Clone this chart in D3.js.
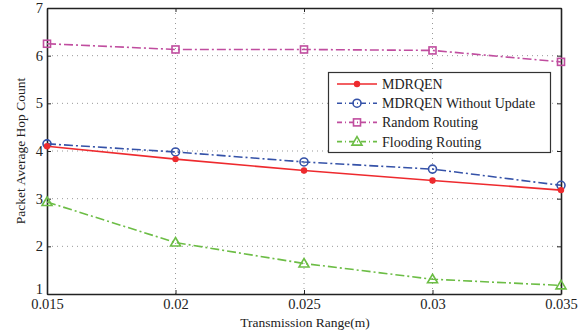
<!DOCTYPE html>
<html>
<head>
<meta charset="utf-8">
<script src="https://cdn.jsdelivr.net/npm/d3@7"></script>
<style>
  html, body { margin: 0; padding: 0; background: #fff; }
  svg { display: block; }
  svg text { font-family: "Liberation Serif", "DejaVu Serif", "Times New Roman", Times, serif; fill: #222; }
</style>
</head>
<body>
<svg id="chart" width="587" height="333"></svg>
<script>
// Transmission range (m) on the x axis
const ranges = [0.015, 0.02, 0.025, 0.03, 0.035];
const xTicks = ["0.015", "0.02", "0.025", "0.03", "0.035"];
const yTicks = [1, 2, 3, 4, 5, 6, 7];

// Packet average hop count per routing scheme
const mdrqen = [4.10, 3.83, 3.59, 3.38, 3.18];
const mdrqenNoUpdate = [4.15, 3.98, 3.77, 3.62, 3.28];
const randomRouting = [6.25, 6.13, 6.13, 6.11, 5.87];
const floodingRouting = [2.93, 2.08, 1.64, 1.31, 1.18];

const seriesNames = ["MDRQEN", "MDRQEN Without Update", "Random Routing", "Flooding Routing"];

const series = [
  { name: seriesNames[0], values: mdrqen, color: "#ee2a2e", dash: null, marker: "dot" },
  { name: seriesNames[1], values: mdrqenNoUpdate, color: "#3552a8", dash: "9,3,2,3", marker: "circle" },
  { name: seriesNames[2], values: randomRouting, color: "#c04d9f", dash: "9,3,2,3", marker: "square" },
  { name: seriesNames[3], values: floodingRouting, color: "#6cbd45", dash: "9,3,2,3", marker: "triangle" }
];

const FONT = '"Liberation Serif", "DejaVu Serif", "Times New Roman", Times, serif';

const svg = d3.select("#chart");
const m = { left: 47, right: 561, top: 8, bottom: 294 };

const x = d3.scaleLinear().domain([0.015, 0.035]).range([m.left, m.right]);
const y = d3.scaleLinear().domain([1, 7]).range([m.bottom, m.top]);

// dotted grid
const grid = svg.append("g");
grid.selectAll("line.gx").data(ranges.slice(1, -1)).enter().append("line")
  .attr("x1", d => x(d)).attr("x2", d => x(d))
  .attr("y1", m.top).attr("y2", m.bottom)
  .attr("stroke", "#999").attr("stroke-width", 1).attr("stroke-dasharray", "1,4");
grid.selectAll("line.gy").data(yTicks.slice(1, -1)).enter().append("line")
  .attr("y1", d => y(d)).attr("y2", d => y(d))
  .attr("x1", m.left).attr("x2", m.right)
  .attr("stroke", "#999").attr("stroke-width", 1).attr("stroke-dasharray", "1,4");

// axes with inward ticks on all four sides
const fmtX = (d, i) => xTicks[i];
const axB = svg.append("g").attr("transform", `translate(0,${m.bottom})`)
  .call(d3.axisBottom(x).tickValues(ranges).tickFormat(fmtX).tickSizeInner(-4).tickSizeOuter(0).tickPadding(5));
const axT = svg.append("g").attr("transform", `translate(0,${m.top})`)
  .call(d3.axisTop(x).tickValues(ranges).tickFormat("").tickSizeInner(-4).tickSizeOuter(0));
const axL = svg.append("g").attr("transform", `translate(${m.left},0)`)
  .call(d3.axisLeft(y).tickValues(yTicks).tickFormat(d3.format("d")).tickSizeInner(-4).tickSizeOuter(0).tickPadding(7));
const axR = svg.append("g").attr("transform", `translate(${m.right},0)`)
  .call(d3.axisRight(y).tickValues(yTicks).tickFormat("").tickSizeInner(-4).tickSizeOuter(0));

[axB, axT, axL, axR].forEach(g => {
  g.attr("font-family", FONT);
  g.select(".domain").attr("stroke", "#222").attr("stroke-width", 1.6);
  g.selectAll(".tick line").attr("stroke", "#222").attr("stroke-width", 1);
  g.selectAll("text").style("font-family", FONT).style("font-size", "14.5px").attr("fill", "#333");
});
axB.selectAll("text").attr("dy", "10px");
axL.selectAll("text").attr("dx", "3");
// lowest y label sits just above the first x label
axL.selectAll(".tick").filter(d => d === 1).select("text").attr("dy", "-1px");

// axis titles
svg.append("text").attr("x", (m.left + m.right) / 2 + 1).attr("y", 327)
  .attr("text-anchor", "middle").style("font-size", "13.5px").text("Transmission Range(m)");
svg.append("text").attr("transform", `translate(25,${(m.top + m.bottom) / 2}) rotate(-90)`)
  .attr("text-anchor", "middle").style("font-size", "13.5px").text("Packet Average Hop Count");

// markers
function drawMarker(g, type, color, cx, cy) {
  if (type === "dot") {
    g.append("circle").attr("cx", cx).attr("cy", cy).attr("r", 3.2).attr("fill", color);
  } else if (type === "circle") {
    g.append("circle").attr("cx", cx).attr("cy", cy).attr("r", 4).attr("fill", "none")
      .attr("stroke", color).attr("stroke-width", 1.6);
  } else if (type === "square") {
    g.append("rect").attr("x", cx - 3.5).attr("y", cy - 3.5).attr("width", 7).attr("height", 7)
      .attr("fill", "none").attr("stroke", color).attr("stroke-width", 1.6);
  } else if (type === "triangle") {
    const s = 5;
    g.append("path").attr("d", `M${cx},${cy - s}L${cx + s},${cy + s * 0.7}L${cx - s},${cy + s * 0.7}Z`)
      .attr("fill", "none").attr("stroke", color).attr("stroke-width", 1.6);
  }
}

const line = d3.line().x((d, i) => x(ranges[i])).y(d => y(d));
const plot = svg.append("g");
series.slice().reverse().forEach(s => {
  plot.append("path").datum(s.values).attr("d", line)
    .attr("fill", "none").attr("stroke", s.color).attr("stroke-width", 1.6)
    .attr("stroke-dasharray", s.dash);
  s.values.forEach((v, i) => drawMarker(plot, s.marker, s.color, x(ranges[i]), y(v)));
});

// legend
const lg = svg.append("g");
lg.append("rect").attr("x", 328.5).attr("y", 72.5).attr("width", 222).attr("height", 80)
  .attr("fill", "#fff").attr("stroke", "#333").attr("stroke-width", 1.2);
series.forEach((s, i) => {
  const ly = 84 + i * 19.2;
  lg.append("line").attr("x1", 337).attr("x2", 377).attr("y1", ly).attr("y2", ly)
    .attr("stroke", s.color).attr("stroke-width", 1.6).attr("stroke-dasharray", s.dash ? "5,3,1,3" : null);
  drawMarker(lg, s.marker, s.color, 357, ly);
  lg.append("text").attr("x", 382).attr("y", ly).attr("dy", "0.35em")
    .style("font-size", "14px").text(s.name);
});
</script>
</body>
</html>
